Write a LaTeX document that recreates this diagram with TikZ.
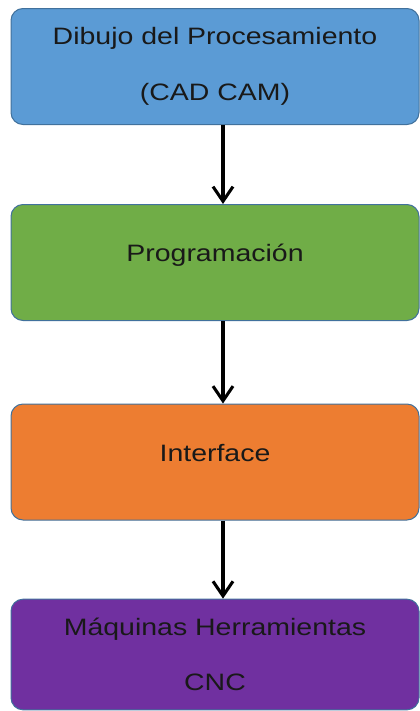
\documentclass[tikz,border=0pt]{standalone}
\usepackage{fontspec}
\setmainfont{Liberation Sans}[FakeStretch=1.2]
\usepackage{tikz}
\usetikzlibrary{arrows.meta}

\definecolor{cadblue}{HTML}{5B9BD5}
\definecolor{proggreen}{HTML}{70AD47}
\definecolor{ifaceorange}{HTML}{ED7D31}
\definecolor{cncpurple}{HTML}{7030A0}
\definecolor{boxline}{HTML}{41719C}

\tikzset{
  stagebox/.style={draw=boxline, line width=0.75pt, rounded corners=9pt,
    minimum width=306pt, minimum height=87pt, inner sep=0pt, align=center,
    text=black!90, font=\fontsize{17.8}{41.5}\selectfont},
  oneline/.style={text depth=14pt},
  flowarrow/.style={line width=2.3pt, -{Straight Barb[length=11pt,width=15pt,line width=2.3pt]}}
}

\begin{document}
\begin{tikzpicture}[x=0.75pt,y=-0.75pt]
            \useasboundingbox (0,0) rectangle (420,711);

            \node[stagebox, fill=cadblue] (cad) at (215,66.5) {Dibujo del Procesamiento\\(CAD CAM)};
            \node[stagebox, oneline, fill=proggreen] (prog) at (215,262.5) {Programación};
            \node[stagebox, oneline, fill=ifaceorange] (iface) at (215,462) {Interface};
            \node[stagebox, fill=cncpurple, minimum height=83pt] (cnc) at (215,654.5) {Máquinas Herramientas\\CNC};

            \draw[flowarrow] ([xshift=6pt]cad.south) -- ([xshift=6pt]prog.north);
            \draw[flowarrow] ([xshift=6pt]prog.south) -- ([xshift=6pt]iface.north);
            \draw[flowarrow] ([xshift=6pt]iface.south) -- ([xshift=6pt]cnc.north);
        \end{tikzpicture}
\end{document}
